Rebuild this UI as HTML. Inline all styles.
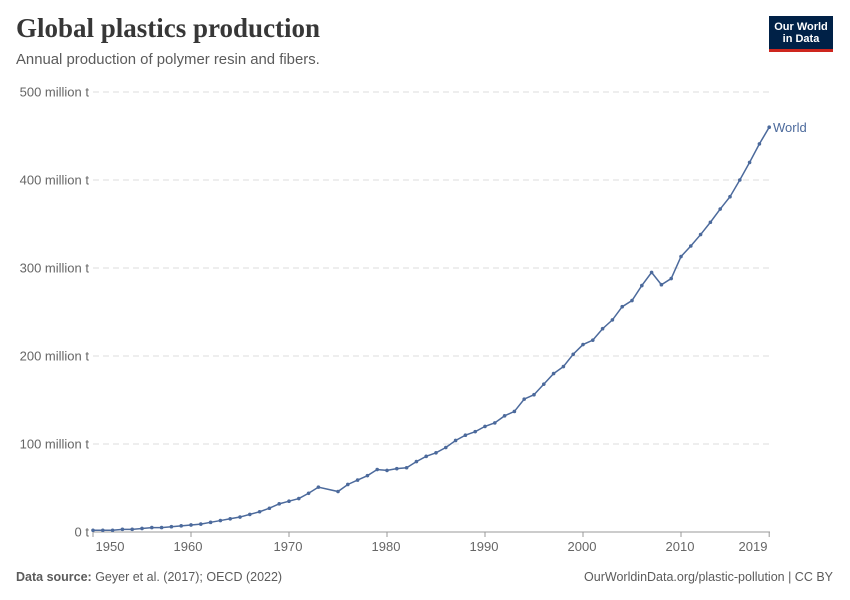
<!DOCTYPE html>
<html><head><meta charset="utf-8">
<style>
body{margin:0;background:#fff;width:850px;height:600px;overflow:hidden;font-family:"Liberation Sans",sans-serif;}
.t{position:absolute;left:16px;top:13px;font-family:"Liberation Serif",serif;font-size:27px;color:#373737;font-weight:bold;}
.s{position:absolute;left:16px;top:52px;font-size:14.9px;color:#5b5b5b;}
.logo{position:absolute;left:769px;top:16px;width:64px;height:36px;background:#002147;border-bottom:3px solid #ce261e;box-sizing:border-box;color:#fff;font-size:11px;line-height:12px;text-align:center;padding-top:5px;font-weight:bold}
.f{position:absolute;top:570px;font-size:12.5px;color:#5b5b5b}
</style></head><body>
<div class="t">Global plastics production</div>
<div class="s">Annual production of polymer resin and fibers.</div>
<div class="logo">Our World<br>in Data</div>
<svg id="c" width="850" height="600" style="position:absolute;left:0;top:0"></svg>
<div class="f" style="left:16px"><b>Data source:</b> Geyer et al. (2017); OECD (2022)</div>
<div class="f" style="right:17px">OurWorldinData.org/plastic-pollution | CC BY</div>
<script>
var d={1950:2,1951:2,1952:2,1953:3,1954:3,1955:4,1956:5,1957:5,1958:6,1959:7,1960:8,1961:9,1962:11,1963:13,1964:15,1965:17,1966:20,1967:23,1968:27,1969:32,1970:35,1971:38,1972:44,1973:51,1975:46,1976:54,1977:59,1978:64,1979:71,1980:70,1981:72,1982:73,1983:80,1984:86,1985:90,1986:96,1987:104,1988:110,1989:114,1990:120,1991:124,1992:132,1993:137,1994:151,1995:156,1996:168,1997:180,1998:188,1999:202,2000:213,2001:218,2002:231,2003:241,2004:256,2005:263,2006:280,2007:295,2008:281,2009:288,2010:313,2011:325,2012:338,2013:352,2014:367,2015:381,2016:400,2017:420,2018:441,2019:460};
function X(y){return 93+(y-1950)*9.8}function Y(v){return 532-v*0.88}
var s='';
var lab=['0 t','100 million t','200 million t','300 million t','400 million t','500 million t'];
for(var i=0;i<=5;i++){var y=Y(i*100);
if(i>0)s+='<line x1="93" x2="770" y1="'+y+'" y2="'+y+'" stroke="#ddd" stroke-dasharray="6,4"/>';
s+='<text x="89" y="'+(y+4.5)+'" text-anchor="end" font-size="13" fill="#666" font-family="Liberation Sans">'+lab[i]+'</text>';}
s+='<line x1="93" x2="770" y1="532" y2="532" stroke="#999"/>';
[[1950,110],[1960,188],[1970,288],[1980,386],[1990,484],[2000,582],[2010,680],[2019,753]].forEach(function(a){
s+='<line x1="'+X(a[0])+'" x2="'+X(a[0])+'" y1="532" y2="537" stroke="#999"/>';
s+='<text x="'+a[1]+'" y="551" text-anchor="middle" font-size="13" fill="#666" font-family="Liberation Sans">'+a[0]+'</text>';});
var p=[],c='';for(var k in d){var x=X(+k),y=Y(d[k]);p.push(x+','+y);c+='<circle cx="'+x+'" cy="'+y+'" r="1.8" fill="#4c6a9c"/>';}
s+='<polyline points="'+p.join(' ')+'" fill="none" stroke="#4c6a9c" stroke-width="1.5"/>'+c;
s+='<text x="773" y="132" font-size="13" fill="#4c6a9c" font-family="Liberation Sans">World</text>';
document.getElementById('c').innerHTML=s;
</script>
</body></html>
